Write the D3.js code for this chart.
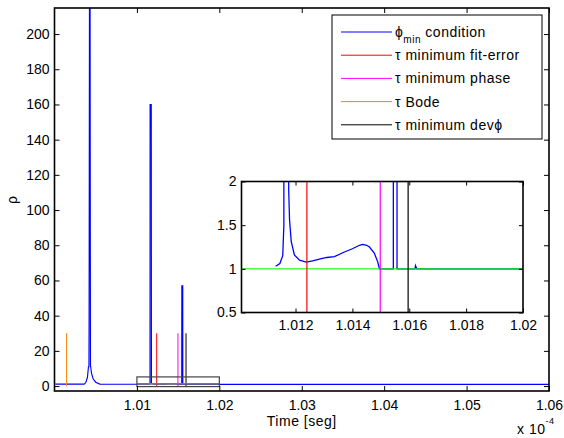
<!DOCTYPE html>
<html>
<head>
<meta charset="utf-8">
<script src="https://cdn.jsdelivr.net/npm/d3@7"></script>
<style>
  body { margin: 0; background: #fff; }
  text { font-family: "Liberation Sans", Arial, sans-serif; font-size: 14px; fill: #000; }
  .lbl { letter-spacing: 0.5px; }
</style>
</head>
<body>
<script>
let svgWidth = 564;
let svgHeight = 438;

// time in units of 1e-4 s, rho values of the phi_min condition curve
let tBlue = [1.0001, 1.0036, 1.0038, 1.0040, 1.00412, 1.00418, 1.0042, 1.00425, 1.00431, 1.00436, 1.0045, 1.0047, 1.0050, 1.0055,
  1.0113, 1.01145, 1.01155, 1.01159, 1.0116, 1.01174, 1.01176, 1.01179, 1.01185, 1.01196, 1.01214, 1.01238, 1.0126, 1.01284,
  1.0131, 1.01337, 1.0137, 1.0140, 1.01425, 1.01436, 1.0145, 1.0146, 1.01477, 1.01489, 1.01495,
  1.01544, 1.01545, 1.01556, 1.01557, 1.0162, 1.01622, 1.01626, 1.06];
let rhoBlue = [1.1, 1.1, 2, 5, 11, 11, 40, 250, 250, 12, 7, 4, 2.2, 1.1,
  1.03, 1.06, 1.15, 1.5, 160, 160, 1.9, 1.56, 1.31, 1.16, 1.1, 1.077, 1.09, 1.11,
  1.13, 1.14, 1.19, 1.23, 1.27, 1.28, 1.27, 1.25, 1.18, 1.08, 1.0,
  1.0, 57, 57, 1.0, 1.0, 1.035, 1.0, 1.0];

// tau markers
let markerNames = ['fit', 'phase', 'bode', 'dev'];
let markerTimes = [1.0124, 1.01498, 1.00147, 1.01596];
let markerColors = ['#ff0000', '#ff00ff', '#ff8000', '#000000'];
let markerTop = 30;

let refRho = 1;

let xTicks = [1.01, 1.02, 1.03, 1.04, 1.05, 1.06];
let xTickLabels = ['1.01', '1.02', '1.03', '1.04', '1.05', '1.06'];
let yTicks = [0, 20, 40, 60, 80, 100, 120, 140, 160, 180, 200];

let inXTicks = [1.012, 1.014, 1.016, 1.018, 1.02];
let inXTickLabels = ['1.012', '1.014', '1.016', '1.018', '1.02'];
let inYTicks = [0.5, 1, 1.5, 2];
let inYTickLabels = ['0.5', '1', '1.5', '2'];

let zoomBox = { t0: 1.01, t1: 1.02, r0: -0.3, r1: 5.2 };

let legendLabels = ['condition', 'τ minimum fit-error', 'τ minimum phase', 'τ Bode', 'τ minimum devϕ'];
let legendColors = ['#0000ff', '#ff0000', '#ff00ff', '#ff8000', '#000000'];

let svg = d3.select('body').append('svg')
  .attr('width', svgWidth)
  .attr('height', svgHeight);

// ---------- main axes ----------
let x = d3.scaleLinear().domain([1.0, 1.06]).range([54.5, 549]);
let y = d3.scaleLinear().domain([-2.8, 214.8]).range([391, 8]);

svg.append('clipPath').attr('id', 'clipMain')
  .append('rect')
  .attr('x', x.range()[0]).attr('y', y.range()[1])
  .attr('width', x.range()[1] - x.range()[0])
  .attr('height', y.range()[0] - y.range()[1]);

let main = svg.append('g').attr('clip-path', 'url(#clipMain)');

let blueData = tBlue.map((t, i) => [t, rhoBlue[i]]);

let line = d3.line().x(d => x(d[0])).y(d => y(d[1]));

main.append('path')
  .datum(blueData)
  .attr('d', line)
  .attr('fill', 'none')
  .attr('stroke', '#0000ff')
  .attr('stroke-width', 1.15);

main.selectAll('.marker')
  .data(markerTimes)
  .join('line')
    .attr('x1', d => x(d)).attr('x2', d => x(d))
    .attr('y1', y(0)).attr('y2', y(markerTop))
    .attr('stroke', (d, i) => markerColors[i])
    .attr('stroke-width', 1);

// zoomed region rectangle
main.append('line')
  .attr('x1', x(zoomBox.t0)).attr('x2', x(zoomBox.t1))
  .attr('y1', y(1.2)).attr('y2', y(1.2))
  .attr('stroke', '#777').attr('stroke-width', 1.8);
main.append('rect')
  .attr('x', x(zoomBox.t0)).attr('y', y(zoomBox.r1))
  .attr('width', x(zoomBox.t1) - x(zoomBox.t0))
  .attr('height', y(zoomBox.r0) - y(zoomBox.r1))
  .attr('fill', 'none').attr('stroke', '#444').attr('stroke-width', 1.2);

function styleAxis(g) {
  g.select('.domain').remove();
  g.selectAll('.tick line').attr('stroke', '#000');
  g.selectAll('text').style('font-size', '14px').attr('fill', '#000');
}

svg.append('g')
  .attr('transform', `translate(0,${y.range()[0]})`)
  .call(d3.axisBottom(x).tickValues(xTicks).tickSize(-5).tickSizeOuter(0).tickPadding(9)
    .tickFormat((d, i) => xTickLabels[i]))
  .call(styleAxis);
svg.append('g')
  .attr('transform', `translate(0,${y.range()[1]})`)
  .call(d3.axisTop(x).tickValues(xTicks).tickSize(-5).tickSizeOuter(0).tickFormat(''))
  .call(styleAxis);
svg.append('g')
  .attr('transform', `translate(${x.range()[0]},0)`)
  .call(d3.axisLeft(y).tickValues(yTicks).tickSize(-5).tickSizeOuter(0).tickPadding(5))
  .call(styleAxis);
svg.append('g')
  .attr('transform', `translate(${x.range()[1]},0)`)
  .call(d3.axisRight(y).tickValues(yTicks).tickSize(-5).tickSizeOuter(0).tickFormat(''))
  .call(styleAxis);

svg.append('rect')
  .attr('x', x.range()[0]).attr('y', y.range()[1])
  .attr('width', x.range()[1] - x.range()[0])
  .attr('height', y.range()[0] - y.range()[1])
  .attr('fill', 'none').attr('stroke', '#000').attr('stroke-width', 1.6);

svg.append('text')
  .attr('class', 'lbl')
  .attr('x', (x.range()[0] + x.range()[1]) / 2)
  .attr('y', 426)
  .attr('text-anchor', 'middle')
  .text('Time [seg]');

let expo = svg.append('text').attr('class', 'lbl').attr('x', 517).attr('y', 434);
expo.append('tspan').text('x 10');
expo.append('tspan').attr('dy', -10).style('font-size', '9px').text('-4');

svg.append('text')
  .attr('transform', 'translate(17,200) rotate(-90)')
  .attr('text-anchor', 'middle')
  .text('ρ');

// ---------- legend ----------
let legend = svg.append('g');
legend.append('rect')
  .attr('x', 332).attr('y', 15).attr('width', 210).attr('height', 124)
  .attr('fill', '#fff').attr('stroke', '#000').attr('stroke-width', 1);

let items = legend.selectAll('.item')
  .data(legendLabels)
  .join('g')
    .attr('transform', (d, i) => `translate(0,${32 + i * 23.2})`);

items.append('line')
  .attr('x1', 341).attr('x2', 392)
  .attr('stroke', (d, i) => legendColors[i])
  .attr('stroke-width', 1);

items.append('text')
  .attr('class', 'lbl')
  .attr('x', 395)
  .attr('dy', '0.35em')
  .each(function (d, i) {
    let t = d3.select(this);
    if (i === 0) {
      t.append('tspan').text('ϕ');
      t.append('tspan').attr('dy', 6).style('font-size', '10px').text('min');
      t.append('tspan').attr('dy', -6).text(' ' + d);
    } else {
      t.text(d);
    }
  });

// ---------- inset ----------
let xi = d3.scaleLinear().domain([1.0101, 1.02]).range([241.5, 523]);
let yi = d3.scaleLinear().domain([0.5, 2]).range([312.5, 181.5]);

svg.append('rect')
  .attr('x', xi.range()[0]).attr('y', yi.range()[1])
  .attr('width', xi.range()[1] - xi.range()[0])
  .attr('height', yi.range()[0] - yi.range()[1])
  .attr('fill', '#fff');

svg.append('clipPath').attr('id', 'clipInset')
  .append('rect')
  .attr('x', xi.range()[0]).attr('y', yi.range()[1])
  .attr('width', xi.range()[1] - xi.range()[0])
  .attr('height', yi.range()[0] - yi.range()[1]);

let inset = svg.append('g').attr('clip-path', 'url(#clipInset)');

let lineIn = d3.line().x(d => xi(d[0])).y(d => yi(d[1]));

inset.append('path')
  .datum(blueData.filter(d => d[0] > 1.01))
  .attr('d', lineIn)
  .attr('fill', 'none')
  .attr('stroke', '#0000ff')
  .attr('stroke-width', 1.3);

inset.append('line')
  .attr('x1', xi.range()[0]).attr('x2', xi.range()[1])
  .attr('y1', yi(refRho)).attr('y2', yi(refRho))
  .attr('stroke', '#00ff00').attr('stroke-opacity', 0.7).attr('stroke-width', 1.5);

inset.selectAll('.marker')
  .data(markerTimes)
  .join('line')
    .attr('x1', d => xi(d)).attr('x2', d => xi(d))
    .attr('y1', yi(0)).attr('y2', yi(markerTop))
    .attr('stroke', (d, i) => markerColors[i])
    .attr('stroke-width', 1.2);

svg.append('g')
  .attr('transform', `translate(0,${yi.range()[0]})`)
  .call(d3.axisBottom(xi).tickValues(inXTicks).tickSize(-4).tickSizeOuter(0).tickPadding(8)
    .tickFormat((d, i) => inXTickLabels[i]))
  .call(styleAxis);
svg.append('g')
  .attr('transform', `translate(0,${yi.range()[1]})`)
  .call(d3.axisTop(xi).tickValues(inXTicks).tickSize(-4).tickSizeOuter(0).tickFormat(''))
  .call(styleAxis);
svg.append('g')
  .attr('transform', `translate(${xi.range()[0]},0)`)
  .call(d3.axisLeft(yi).tickValues(inYTicks).tickSize(-4).tickSizeOuter(0).tickPadding(5)
    .tickFormat((d, i) => inYTickLabels[i]))
  .call(styleAxis);
svg.append('g')
  .attr('transform', `translate(${xi.range()[1]},0)`)
  .call(d3.axisRight(yi).tickValues(inYTicks).tickSize(-4).tickSizeOuter(0).tickFormat(''))
  .call(styleAxis);

svg.append('rect')
  .attr('x', xi.range()[0]).attr('y', yi.range()[1])
  .attr('width', xi.range()[1] - xi.range()[0])
  .attr('height', yi.range()[0] - yi.range()[1])
  .attr('fill', 'none').attr('stroke', '#000').attr('stroke-width', 1.6);
</script>
</body>
</html>
